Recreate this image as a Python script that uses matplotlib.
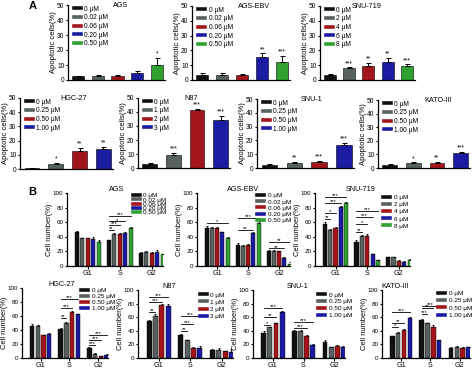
import matplotlib.pyplot as plt
from matplotlib.lines import Line2D
import numpy as np

plt.rcParams['font.family'] = ['Liberation Sans', 'DejaVu Sans']

W, H = 474, 377
colors = ['#111111', '#596060', '#a3151b', '#1b1ba3', '#2ea12e']
phases = ['G1', 'S', 'G2']

# dose labels
doses_ags = ['0 μM', '0.02 μM', '0.06 μM', '0.20 μM', '0.50 μM']
doses_snu719 = ['0 μM', '2 μM', '4 μM', '6 μM', '8 μM']
doses_hgc = ['0 μM', '0.25 μM', '0.50 μM', '1.00 μM']
doses_n87 = ['0 μM', '1 μM', '2 μM', '3 μM']

# A: apoptotic cells (%)
apo_ags = [2.5, 2.5, 2.5, 4.5, 10.0]
apo_ags_err = [0.5, 1.0, 0.8, 1.5, 5.0]
apo_ags_sig = ['', '', '', '', '*']
apo_ebv = [3.5, 3.5, 3.5, 15.5, 12.5]
apo_ebv_err = [1.0, 1.2, 0.8, 2.5, 4.0]
apo_ebv_sig = ['', '', '', '**', '***']
apo_snu719 = [3.5, 8.0, 9.5, 12.5, 9.5]
apo_snu719_err = [0.3, 0.5, 2.0, 2.5, 1.0]
apo_snu719_sig = ['', '***', '**', '**', '***']
apo_hgc = [0.5, 3.5, 12.5, 14.0]
apo_hgc_err = [0.3, 1.0, 2.5, 1.5]
apo_hgc_sig = ['', '*', '**', '**']
apo_n87 = [3.0, 9.5, 41.5, 34.0]
apo_n87_err = [0.5, 1.0, 1.0, 3.0]
apo_n87_sig = ['', '***', '***', '***']
apo_snu1 = [2.5, 3.5, 4.5, 16.5]
apo_snu1_err = [0.5, 0.8, 0.5, 1.5]
apo_snu1_sig = ['', '**', '***', '***']
apo_kato = [2.5, 3.5, 4.0, 11.0]
apo_kato_err = [0.4, 0.6, 0.4, 0.8]
apo_kato_sig = ['', '*', '**', '***']

# B: cell number (%) per phase (rows G1, S, G2; columns doses)
cc_ags = [[47, 38, 38, 37, 33], [35, 44, 44, 45, 52], [18, 19, 18, 19, 16]]
cc_ags_err = [[1, 1, 1, 3, 2], [1, 1, 1, 2, 2], [1, 1, 1, 3, 1]]
cc_ags_br = [(1, 1, 50, '**'), (1, 2, 56, '***'), (1, 3, 61, '*'), (1, 4, 69, '***')]
cc_ebv = [[52, 52, 52, 46, 38], [29, 28, 29, 45, 59], [21, 21, 20, 11, 3]]
cc_ebv_err = [[3, 2, 2, 1, 2], [2, 1, 1, 2, 2], [1.5, 1, 1, 2, 2]]
cc_ebv_br = [(0, 4, 59, '*'), (1, 3, 49, '**'), (1, 4, 66, '***'), (2, 3, 24, '**'), (2, 4, 33, '**')]
cc_snu719 = [[57, 49, 52, 81, 86], [33, 41, 41, 16, 8], [12, 12, 7, 6, 8]]
cc_snu719_err = [[3, 2, 2, 1, 1], [2, 2, 3, 1, 0.5], [1, 1, 1, 1, 1]]
cc_snu719_br = [(0, 1, 64, '**'), (0, 2, 72, '*'), (0, 3, 86, '***'), (0, 4, 95, '***'),
                (1, 1, 47, '**'), (1, 2, 57, '*'), (1, 3, 67, '***'), (1, 4, 75, '***')]
cc_hgc = [[46, 46, 33, 35], [41, 50, 66, 63], [15, 6, 3, 5]]
cc_hgc_err = [[2, 1, 0.5, 0.5], [2, 1, 0.5, 0.5], [1, 0.5, 0.5, 0.5]]
cc_hgc_br = [(1, 1, 57, '**'), (1, 2, 71, '***'), (1, 3, 85, '***'),
             (2, 1, 19, '***'), (2, 2, 26, '***'), (2, 3, 33, '***')]
cc_n87 = [[55, 62, 78, 77], [34, 26, 14, 14], [12, 12, 10, 9]]
cc_n87_err = [[1, 3, 2, 2], [2, 1, 2, 3], [1, 2, 1, 4]]
cc_n87_br = [(0, 1, 67, '**'), (0, 2, 83, '***'), (0, 3, 90, '***'),
             (1, 1, 40, '**'), (1, 2, 50, '***'), (1, 3, 62, '***')]
cc_snu1 = [[37, 45, 51, 68], [40, 40, 33, 19], [24, 16, 18, 16]]
cc_snu1_err = [[2, 1, 1, 1], [1, 1, 0.5, 1], [2, 0.5, 1, 1]]
cc_snu1_br = [(0, 1, 48, '*'), (0, 2, 60, '**'), (0, 3, 73, '***'),
              (1, 2, 44, '***'), (1, 3, 53, '***')]
cc_kato = [[32, 37, 41, 59], [56, 51, 46, 26], [15, 16, 15, 16]]
cc_kato_err = [[1, 1, 2, 1], [1, 1, 2, 0.5], [0.5, 1.5, 0.5, 0.5]]
cc_kato_br = [(0, 1, 45, '*'), (0, 2, 51, '**'), (0, 3, 67, '***'),
              (1, 1, 65, '***'), (1, 2, 73, '**'), (1, 3, 77, '***')]


def box(l, t, r, b):
    return [l / W, 1 - b / H, (r - l) / W, (b - t) / H]


def style(ax, ymax, ylabel, lsize, tsize):
    for s in ['top', 'right']:
        ax.spines[s].set_visible(False)
    for s in ['left', 'bottom']:
        ax.spines[s].set_linewidth(0.9)
    ax.set_ylim(0, ymax)
    ax.set_yticks(np.arange(0, ymax + 1, ymax // 5))
    ax.tick_params(labelsize=tsize, length=1.8, width=0.8, pad=0.8)
    ax.set_ylabel(ylabel, fontsize=lsize, labelpad=0)


def legend(ax, labels, x, y, size, spacing):
    handles = [Line2D([], [], color=c, lw=2.6) for c in colors[:len(labels)]]
    ax.legend(handles, labels, loc='upper left', bbox_to_anchor=(x, y), frameon=False,
              fontsize=size, handlelength=1.1, handletextpad=0.5, labelspacing=spacing,
              borderaxespad=0, borderpad=0)


def apo_panel(rect, title, tx, labels, vals, errs, sig):
    ax = fig.add_axes(box(*rect))
    n = len(vals)
    x = np.arange(n)
    ax.bar(x, vals, width=0.62, color=colors[:n], edgecolor='black', linewidth=0.4)
    ax.errorbar(x, vals, yerr=[np.zeros(n), errs], fmt='none', ecolor='black',
                elinewidth=0.7, capsize=1.8, capthick=0.7)
    for xi, v, e, s in zip(x, vals, errs, sig):
        ax.text(xi, v + e + 0.3, s, ha='center', va='bottom', fontsize=4.8)
    ax.set_xlim(-0.5, n - 0.6)
    ax.set_xticks([])
    style(ax, 50, 'Apoptotic cells(%)', 5.5, 4.8)
    ax.text(tx, 1.0, title, transform=ax.transAxes, ha='center', va='center', fontsize=5.2)
    legend(ax, labels, 0.06, 0.99, 4.8, 0.25)


def cc_panel(rect, title, tx, labels, vals, errs, brackets, lx, ly, spacing):
    ax = fig.add_axes(box(*rect))
    n = len(labels)
    step = 0.17 if n == 5 else 0.2
    width = step * 0.78
    offs = (np.arange(n) - (n - 1) / 2) * step
    for i in range(n):
        v = [row[i] for row in vals]
        e = [row[i] for row in errs]
        xs = np.arange(3) + offs[i]
        ax.bar(xs, v, width=width, color=colors[i], edgecolor='black', linewidth=0.3)
        ax.errorbar(xs, v, yerr=[np.zeros(3), e], fmt='none', ecolor='black',
                    elinewidth=0.6, capsize=1.0, capthick=0.6)
    for g, d, lev, s in brackets:
        ax.plot([g + offs[0], g + offs[d]], [lev, lev], color='black', lw=0.6)
        ax.text((2 * g + offs[0] + offs[d]) / 2, lev - 1.5, s, ha='center', va='bottom', fontsize=4.2)
    ax.set_xlim(-0.65, 2.35)
    ax.set_xticks(range(3))
    ax.set_xticklabels(phases)
    style(ax, 100, 'Cell number(%)', 5.4, 4.5)
    ax.tick_params(axis='x', labelsize=5.2)
    ax.text(tx, 1.05, title, transform=ax.transAxes, ha='center', va='center', fontsize=5.2)
    legend(ax, labels, lx, ly, 4.6, spacing)


fig = plt.figure(figsize=(W / 100, H / 100), dpi=100)

apo_panel((68, 5, 165, 80), 'AGS', 0.54, doses_ags, apo_ags, apo_ags_err, apo_ags_sig)
apo_panel((192, 6, 290, 80), 'AGS-EBV', 0.63, doses_ags, apo_ebv, apo_ebv_err, apo_ebv_sig)
apo_panel((320, 6, 415, 80), 'SNU-719', 0.49, doses_snu719, apo_snu719, apo_snu719_err, apo_snu719_sig)
apo_panel((20, 98, 113, 169), 'HGC-27', 0.58, doses_hgc, apo_hgc, apo_hgc_err, apo_hgc_sig)
apo_panel((138, 98, 230, 168), 'N87', 0.58, doses_n87, apo_n87, apo_n87_err, apo_n87_sig)
apo_panel((257, 99, 354, 168), 'SNU-1', 0.56, doses_hgc, apo_snu1, apo_snu1_err, apo_snu1_sig)
apo_panel((378, 100, 470, 168), 'KATO-III', 0.65, doses_hgc, apo_kato, apo_kato_err, apo_kato_sig)

cc_panel((67, 193, 163, 266), 'AGS', 0.52, doses_ags, cc_ags, cc_ags_err, cc_ags_br, 0.69, 1.0, -0.2)
cc_panel((197, 193, 290, 266), 'AGS-EBV', 0.5, doses_ags, cc_ebv, cc_ebv_err, cc_ebv_br, 0.65, 1.0, 0.1)
cc_panel((315, 193, 410, 266), 'SNU-719', 0.48, doses_snu719, cc_snu719, cc_snu719_err, cc_snu719_br, 0.72, 0.98, 0.27)
cc_panel((22, 288, 108, 358), 'HGC-27', 0.46, doses_hgc, cc_hgc, cc_hgc_err, cc_hgc_br, 0.69, 1.0, 0.05)
cc_panel((138, 290, 233, 358), 'N87', 0.33, doses_n87, cc_n87, cc_n87_err, cc_n87_br, 0.65, 0.97, 0.27)
cc_panel((253, 290, 345, 358), 'SNU-1', 0.48, doses_hgc, cc_snu1, cc_snu1_err, cc_snu1_br, 0.71, 0.97, 0.22)
cc_panel((382, 290, 470, 358), 'KATO-III', 0.15, doses_hgc, cc_kato, cc_kato_err, cc_kato_br, 0.64, 0.99, 0.27)

fig.text(33 / W, 1 - 6 / H, 'A', fontsize=8, fontweight='bold', ha='center', va='center')
fig.text(32 / W, 1 - 192 / H, 'B', fontsize=8, fontweight='bold', ha='center', va='center')

fig.savefig('out.png', dpi=100)
